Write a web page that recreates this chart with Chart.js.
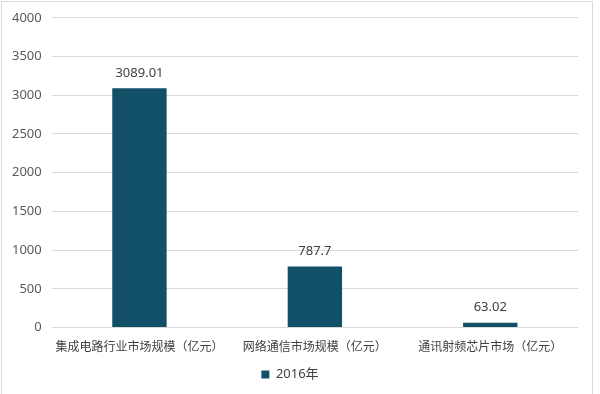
<!DOCTYPE html>
<html>
<head>
<meta charset="utf-8">
<script src="https://cdn.jsdelivr.net/npm/chart.js@4/dist/chart.umd.min.js"></script>
<style>
  html, body { margin: 0; padding: 0; background: #fff; }
  #wrap { position: relative; width: 600px; height: 394px; }
  #frame { position: absolute; left: 1px; top: 1px; width: 592px; height: 400px; border: 1px solid #d9d9d9; box-sizing: border-box; pointer-events: none; }
</style>
</head>
<body>
<div id="wrap">
  <canvas id="chart" width="600" height="394"></canvas>
  <div id="frame"></div>
</div>
<script>
const categories = ['集成电路行业市场规模（亿元）', '网络通信市场规模（亿元）', '通讯射频芯片市场（亿元）'];
const values2016 = [3089.01, 787.7, 63.02];
const valueLabels = ['3089.01', '787.7', '63.02'];
const seriesName = '2016年';

const fontFamily = '"Segoe UI", "Noto Sans", "Noto Sans CJK SC", sans-serif';

// simple value labels above bars (no datalabels plugin offline)
const barLabels = {
  id: 'barLabels',
  afterDatasetsDraw(chart) {
    const ctx = chart.ctx;
    const meta = chart.getDatasetMeta(0);
    ctx.save();
    ctx.font = '13px ' + fontFamily;
    ctx.fillStyle = '#404040';
    ctx.textAlign = 'center';
    ctx.textBaseline = 'bottom';
    meta.data.forEach((bar, i) => {
      ctx.fillText(valueLabels[i], bar.x, bar.y - 9);
    });
    ctx.restore();
  }
};

new Chart(document.getElementById('chart').getContext('2d'), {
  type: 'bar',
  data: {
    labels: categories,
    datasets: [{
      label: seriesName,
      data: values2016,
      backgroundColor: '#115067',
      categoryPercentage: 0.62,
      barPercentage: 0.5
    }]
  },
  options: {
    responsive: false,
    animation: false,
    layout: { padding: { top: 8, right: 22, left: 2, bottom: 3 } },
    plugins: {
      legend: {
        position: 'bottom',
        labels: {
          boxWidth: 8, boxHeight: 8, padding: 8,
          color: '#404040',
          font: { size: 13, family: fontFamily }
        }
      },
      tooltip: { enabled: false }
    },
    scales: {
      x: {
        grid: { display: false },
        border: { display: false },
        ticks: { color: '#404040', font: { size: 12, family: fontFamily }, maxRotation: 0, padding: 5 }
      },
      y: {
        min: 0, max: 4000,
        ticks: {
          stepSize: 500, color: '#595959', font: { size: 13, family: fontFamily }, padding: 10,
          callback: (v) => String(v)
        },
        grid: { color: '#d9d9d9', drawTicks: false },
        border: { display: false }
      }
    }
  },
  plugins: [barLabels]
});
</script>
</body>
</html>
